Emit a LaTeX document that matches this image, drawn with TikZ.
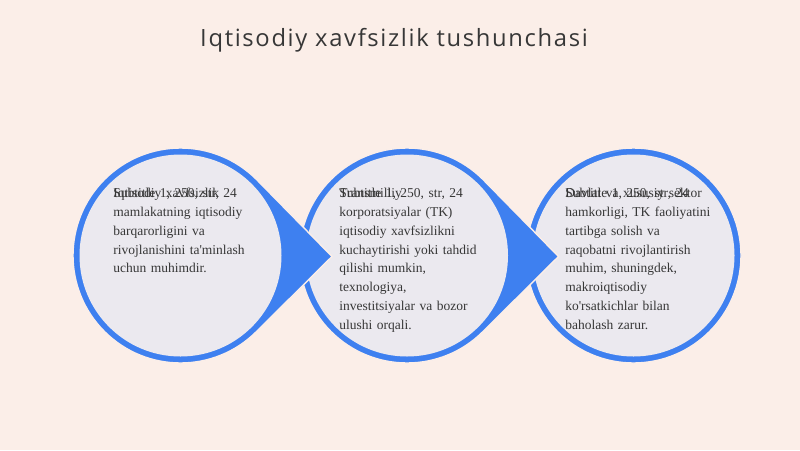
\documentclass[tikz,border=0pt]{standalone}
\usepackage{fontspec}
\setmainfont{Liberation Serif}
\newfontfamily\titlefont[LetterSpace=7]{Open Sans}
\usepackage{tikz}

\definecolor{bgpeach}{RGB}{251,238,232}
\definecolor{ringblue}{RGB}{62,128,240}
\definecolor{diskgrey}{RGB}{235,233,239}
\definecolor{inkgrey}{RGB}{55,55,55}

\begin{document}
\begin{tikzpicture}[x = .025cm, y = .025cm,
    drop/.style = {fill = ringblue, draw = bgpeach, line width = 1pt},
    disk/.style = {fill = diskgrey},
    bodytext/.style = {anchor = north west, inner sep = 0pt, text width = 4.2cm, align = left, text = inkgrey, font = \fontsize{9.6}{13.4}\selectfont},
    headtext/.style = {inner sep = 0pt, text = inkgrey, font = \titlefont\fontsize{16.9}{20}\selectfont}]
    \fill[bgpeach] (0, 0) rectangle (800, 450);
    \useasboundingbox (0, 0) rectangle (800, 450);
    \node[headtext] (title) at (394, 410) {Iqtisodiy xavfsizlik tushunchasi};
    \coordinate (c1) at (180.5, 194.5);
    \coordinate (c2) at (407, 194.5);
    \coordinate (c3) at (633.5, 194.5);
    \coordinate (tip1) at (332, 193.5);
    \coordinate (tip2) at (558.5, 193.5);
	\draw[drop] (c3) circle [radius = 107.5];
	\fill[disk] (c3) circle [radius = 101];
	\draw[drop] (tip2) -- ([shift = {(45:107.5)}] c2) arc [start angle = 45, end angle = 315, radius = 107.5] -- cycle;
	\fill[disk] (c2) circle [radius = 101];
	\draw[drop] (tip1) -- ([shift = {(45:107.5)}] c1) arc [start angle = 45, end angle = 315, radius = 107.5] -- cycle;
	\fill[disk] (c1) circle [radius = 101];
    \node[bodytext] (t1) at (113, 266) {\strut Iqtisodiy xavfsizlik\\ mamlakatning iqtisodiy\\ barqarorligini va\\ rivojlanishini ta\textquotesingle minlash\\ uchun muhimdir.};
    \node[bodytext] (s1) at (113, 266) {\strut Subtitle 1, 250, str, 24};
    \node[bodytext] (t2) at (339, 266) {\strut Transmilliy\\ korporatsiyalar (TK)\\ iqtisodiy xavfsizlikni\\ kuchaytirishi yoki tahdid\\ qilishi mumkin,\\ texnologiya,\\ investitsiyalar va bozor\\ ulushi orqali.};
    \node[bodytext] (s2) at (339, 266) {\strut Subtitle 1, 250, str, 24};
    \node[bodytext] (t3) at (565, 266) {\strut Davlat va xususiy sektor\\ hamkorligi, TK faoliyatini\\ tartibga solish va\\ raqobatni rivojlantirish\\ muhim, shuningdek,\\ makroiqtisodiy\\ ko\textquotesingle rsatkichlar bilan\\ baholash zarur.};
    \node[bodytext] (s3) at (565, 266) {\strut Subtitle 1, 250, str, 24};
    \end{tikzpicture}
\end{document}
